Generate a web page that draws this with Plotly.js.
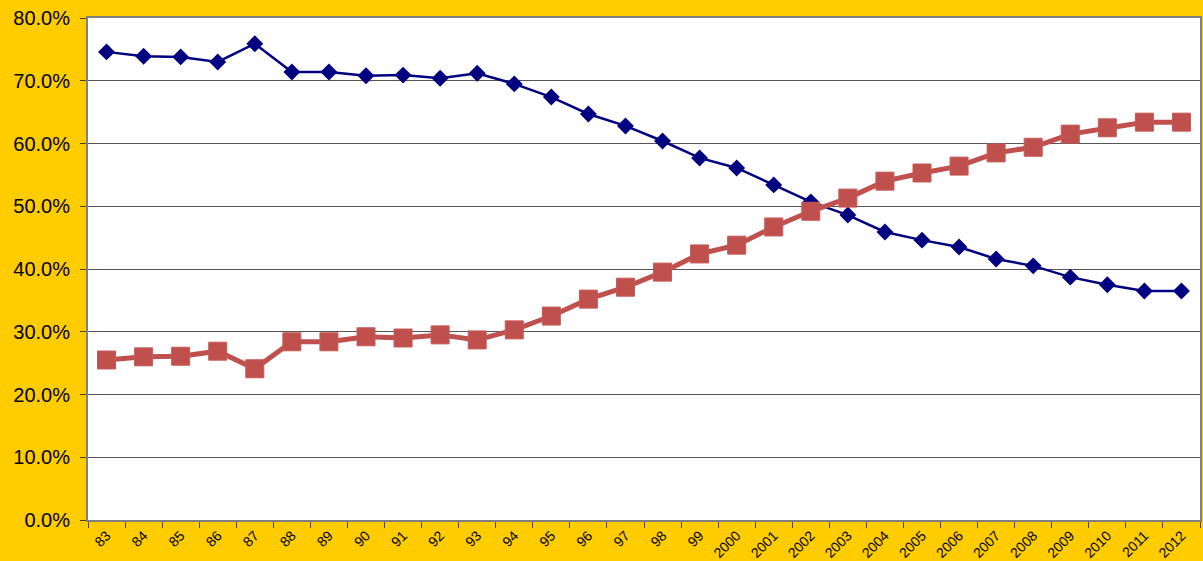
<!DOCTYPE html>
<html>
<head>
<meta charset="utf-8">
<script src="https://cdn.plot.ly/plotly-3.0.1.min.js"></script>
<style>html,body{margin:0;padding:0;background:#FFCC00;}#chart{width:1203px;height:561px;}</style>
</head>
<body>
<div id="chart"></div>
<script>
const years = ["83","84","85","86","87","88","89","90","91","92","93","94","95","96","97","98","99","2000","2001","2002","2003","2004","2005","2006","2007","2008","2009","2010","2011","2012"];
const blueSeries = [74.6,73.9,73.8,73.0,75.9,71.4,71.4,70.8,70.9,70.4,71.2,69.5,67.4,64.7,62.8,60.4,57.7,56.1,53.4,50.7,48.6,45.9,44.6,43.5,41.6,40.5,38.7,37.5,36.5,36.5];
const redSeries = [25.5,26.0,26.1,26.9,24.1,28.4,28.4,29.2,29.0,29.5,28.7,30.3,32.5,35.2,37.1,39.5,42.4,43.8,46.7,49.2,51.3,54.0,55.3,56.4,58.5,59.4,61.5,62.5,63.4,63.4];
const yTicks = [0,10,20,30,40,50,60,70,80];

const traces = [
  {x: years, y: blueSeries.map(v => v/100), type: 'scatter', mode: 'lines+markers',
   line: {color: '#000080', width: 2.5},
   marker: {symbol: 'diamond', size: 13, color: '#000080'}, showlegend: false},
  {x: years, y: redSeries.map(v => v/100), type: 'scatter', mode: 'lines+markers',
   line: {color: '#C0504D', width: 5},
   marker: {symbol: 'square', size: 18, color: '#C0504D', line: {color: '#C55A57', width: 1}}, showlegend: false}
];

const layout = {
  width: 1203, height: 561,
  paper_bgcolor: '#FFCC00', plot_bgcolor: '#FFFFFF',
  margin: {l: 88, r: 3, t: 18, b: 41},
  font: {family: 'Liberation Sans, Arial, sans-serif', color: '#000'},
  xaxis: {
    type: 'category', tickson: 'boundaries', ticks: 'outside', ticklen: 6, tickcolor: '#404040',
    tickangle: -45, tickfont: {size: 14}, showline: true, linecolor: '#808080', linewidth: 2,
    mirror: true, showgrid: false, automargin: false, range: [-0.5, 29.5]
  },
  yaxis: {
    range: [0, 0.8], tickvals: yTicks.map(v => v/100), ticktext: yTicks.map(v => v.toFixed(1) + '%'),
    ticks: 'outside', ticklen: 6, tickcolor: '#404040', tickfont: {size: 20},
    showline: true, linecolor: '#808080', linewidth: 2, mirror: true,
    showgrid: true, gridcolor: '#555555', gridwidth: 1, zeroline: false, automargin: false,
    ticklabelstandoff: 6
  }
};

Plotly.newPlot('chart', traces, layout, {displayModeBar: false, staticPlot: true});
</script>
</body>
</html>
